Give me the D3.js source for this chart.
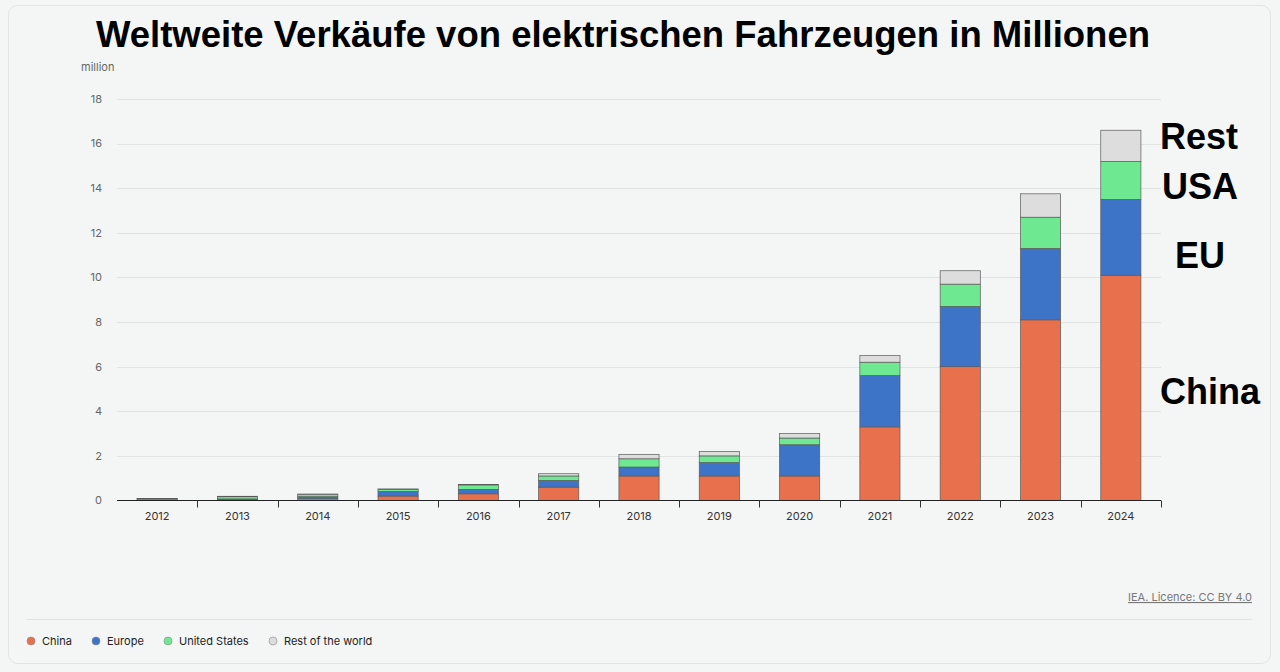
<!DOCTYPE html>
<html>
<head>
<meta charset="utf-8">
<script src="https://cdn.jsdelivr.net/npm/d3@7"></script>
<style>
  body { margin: 0; background: #f4f6f5; }
  svg { display: block; }
</style>
</head>
<body>
<div id="plot"></div>
<script>
// values in million
let years = ['2012','2013','2014','2015','2016','2017','2018','2019','2020','2021','2022','2023','2024'];
let china  = [0.01, 0.02, 0.08, 0.2, 0.3, 0.6, 1.1, 1.1, 1.1, 3.3, 6.0, 8.1, 10.1];
let europe = [0.02, 0.05, 0.09, 0.2, 0.2, 0.3, 0.4, 0.6, 1.4, 2.3, 2.7, 3.2, 3.4];
let usa    = [0.05, 0.1, 0.1, 0.1, 0.2, 0.2, 0.37, 0.3, 0.3, 0.6, 1.0, 1.4, 1.7];
let rest   = [0.01, 0.02, 0.02, 0.02, 0.02, 0.1, 0.2, 0.2, 0.2, 0.3, 0.6, 1.05, 1.4];
let yTicks = [0, 2, 4, 6, 8, 10, 12, 14, 16, 18];

let series = [
  {key: 'china',  name: 'China', color: '#e8704c'},
  {key: 'europe', name: 'Europe', color: '#3d74c8'},
  {key: 'usa',    name: 'United States', color: '#6ee992'},
  {key: 'rest',   name: 'Rest of the world', color: '#dddddd'}
];
let table = years.map((y, i) => ({year: y, china: china[i], europe: europe[i], usa: usa[i], rest: rest[i]}));

let width = 1280, height = 672;
let svg = d3.select('#plot').append('svg').attr('width', width).attr('height', height);

svg.append('rect').attr('x', 8.5).attr('y', 5.5).attr('width', 1262).attr('height', 658)
  .attr('rx', 9).attr('fill', '#f4f6f5').attr('stroke', '#e2e4e3');

let x = d3.scaleBand().domain(years).range([117, 1161]).paddingInner(0.5).paddingOuter(0.25);
let y = d3.scaleLinear().domain([0, 18]).range([500.5, 99]);

// grid
svg.append('g').selectAll('line').data(yTicks.slice(1)).join('line')
  .attr('x1', 117).attr('x2', 1161)
  .attr('y1', d => Math.round(y(d)) + 0.5).attr('y2', d => Math.round(y(d)) + 0.5)
  .attr('stroke', '#e1e3e2');

// y labels
svg.append('g').selectAll('text').data(yTicks).join('text')
  .attr('x', 102).attr('y', d => y(d)).attr('dy', '0.35em')
  .attr('text-anchor', 'end').attr('font-family', 'Inter, sans-serif').attr('font-size', 11)
  .attr('fill', '#666').text(d => d);

svg.append('text').attr('x', 81).attr('y', 71).attr('font-family', 'Inter, sans-serif')
  .attr('font-size', 11).attr('fill', '#666').text('million');

// bars
let stack = d3.stack().keys(series.map(s => s.key))(table);
svg.append('g').selectAll('g').data(stack).join('g')
  .attr('fill', (d, i) => series[i].color)
  .selectAll('rect').data(d => d).join('rect')
  .attr('x', d => x(d.data.year))
  .attr('width', x.bandwidth())
  .attr('y', d => y(d[1]))
  .attr('height', d => y(d[0]) - y(d[1]))
  .attr('stroke', '#5a5a5a').attr('stroke-width', 0.7);

// x axis
let xAxis = svg.append('g').attr('transform', 'translate(0,500.5)');
xAxis.append('line').attr('x1', 117).attr('x2', 1161).attr('stroke', '#222');
let bounds = years.slice(1).map(yr => x(yr) - x.step() * x.paddingInner() / 2);
bounds.push(1161);
xAxis.selectAll('line.tk').data(bounds).join('line').attr('class', 'tk')
  .attr('x1', d => Math.round(d) + 0.5).attr('x2', d => Math.round(d) + 0.5)
  .attr('y1', 0).attr('y2', 7).attr('stroke', '#333');
xAxis.selectAll('text').data(years).join('text')
  .attr('x', d => x(d) + x.bandwidth() / 2).attr('y', 19)
  .attr('text-anchor', 'middle').attr('font-family', 'Inter, sans-serif').attr('font-size', 11)
  .attr('fill', '#333').text(d => d);

// title
svg.append('text').attr('x', 623).attr('y', 47).attr('text-anchor', 'middle')
  .attr('font-family', 'Liberation Sans, Arial, sans-serif').attr('font-weight', 'bold')
  .attr('font-size', 36.5).attr('fill', '#000')
  .text('Weltweite Verkäufe von elektrischen Fahrzeugen in Millionen');

// annotations at the right
let annotations = [['Rest', 1160, 136], ['USA', 1162, 186], ['EU', 1175, 255], ['China', 1160, 391]];
svg.append('g').selectAll('text').data(annotations).join('text')
  .attr('x', d => d[1]).attr('y', d => d[2]).attr('dy', '0.35em')
  .attr('font-family', 'Liberation Sans, Arial, sans-serif').attr('font-weight', 'bold')
  .attr('font-size', 36).attr('fill', '#000').text(d => d[0]);

// source
svg.append('text').attr('x', 1252).attr('y', 601).attr('text-anchor', 'end')
  .attr('font-family', 'Inter, sans-serif').attr('font-size', 11).attr('fill', '#777')
  .attr('text-decoration', 'underline').text('IEA. Licence: CC BY 4.0');

svg.append('line').attr('x1', 27).attr('x2', 1252).attr('y1', 619.5).attr('y2', 619.5).attr('stroke', '#e1e3e2');

// legend
let legX = [31, 96, 168, 273];
let leg = svg.append('g').selectAll('g').data(series).join('g')
  .attr('transform', (d, i) => `translate(${legX[i]},641)`);
leg.append('circle').attr('r', 4).attr('fill', d => d.color).attr('stroke', '#888').attr('stroke-width', 0.6);
leg.append('text').attr('x', 11).attr('dy', '0.35em').attr('font-family', 'Inter, sans-serif')
  .attr('font-size', 11).attr('fill', '#222').text(d => d.name);
</script>
</body>
</html>
